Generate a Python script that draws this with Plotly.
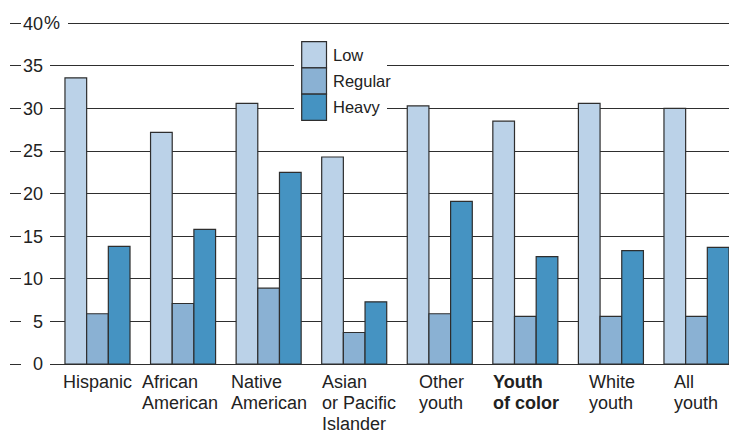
import plotly.graph_objects as go

# --- data ---
categories = ["Hispanic", "African American", "Native American", "Asian or Pacific Islander",
              "Other youth", "Youth of color", "White youth", "All youth"]
category_lines = [["Hispanic"], ["African", "American"], ["Native", "American"],
                  ["Asian", "or Pacific", "Islander"], ["Other", "youth"],
                  ["Youth", "of color"], ["White", "youth"], ["All", "youth"]]
low = [33.6, 27.2, 30.6, 24.3, 30.3, 28.5, 30.6, 30.0]
regular = [5.9, 7.1, 8.9, 3.7, 5.9, 5.6, 5.6, 5.6]
heavy = [13.8, 15.8, 22.5, 7.3, 19.1, 12.6, 13.3, 13.7]

series_names = ["Low", "Regular", "Heavy"]
y_ticks = [0, 5, 10, 15, 20, 25, 30, 35, 40]
highlight = "Youth of color"

# --- style ---
COLORS = {"Low": "#bbd2e8", "Regular": "#8ab1d3", "Heavy": "#4593c2"}
LINE = "#2e2e2e"
TEXT = "#222222"
FONT = "Liberation Sans, Arial, Helvetica, sans-serif"
W, H = 729, 431
TOP, BOTTOM = 19, 67
PLOT_H = H - TOP - BOTTOM
# left edge of each label block, relative to the group centre (px)
LABEL_OFFSETS = [-36.5, -43, -40, -34, -23, -34, -24, -24]
LINE_STEP = 21.2


def px_x(p):
    return p / W


def px_y(p):
    return (H - BOTTOM - p) / PLOT_H


fig = go.Figure()
for name, vals in zip(series_names, [low, regular, heavy]):
    fig.add_trace(go.Bar(
        x=categories, y=vals, name=name, showlegend=False,
        marker=dict(color=COLORS[name], line=dict(color=LINE, width=1.2)),
    ))

# empty trace so the left tick-dash axis gets drawn
fig.add_trace(go.Scatter(x=[], y=[], yaxis="y2", showlegend=False, hoverinfo="skip"))

# category labels, one annotation per line, left aligned
for cat, lines, off in zip(categories, category_lines, LABEL_OFFSETS):
    for k, ln in enumerate(lines):
        txt = f"<b>{ln}</b>" if cat == highlight else ln
        fig.add_annotation(
            x=cat, y=0, xref="x", yref="y", text=txt, showarrow=False,
            xanchor="left", yanchor="top", xshift=off, yshift=-6 - k * LINE_STEP,
            font=dict(family=FONT, size=18, color=TEXT),
        )

# "%" after the top tick, with the gridline cleared behind it
fig.add_annotation(
    x=px_x(43), y=40, xref="paper", yref="y", text="%", showarrow=False,
    xanchor="left", yanchor="middle", borderpad=0,
    font=dict(family=FONT, size=18, color=TEXT),
)
shapes = [dict(type="rect", xref="paper", yref="y",
               x0=px_x(49), x1=px_x(68), y0=39.5, y1=40.5,
               fillcolor="white", line=dict(width=0), layer="above")]

# legend block
shapes.append(dict(type="rect", xref="paper", yref="paper",
                   x0=px_x(294), x1=px_x(387), y0=px_y(122), y1=px_y(31),
                   fillcolor="white", line=dict(width=0), layer="above"))
sw_top = 41.7
sw_h = 26.2
for i, name in enumerate(series_names):
    y0 = sw_top + i * sw_h
    shapes.append(dict(type="rect", xref="paper", yref="paper",
                       x0=px_x(301.7), x1=px_x(326.5), y0=px_y(y0 + sw_h), y1=px_y(y0),
                       fillcolor=COLORS[name], line=dict(color=LINE, width=1.2),
                       layer="above"))
    fig.add_annotation(
        x=px_x(331), y=px_y(y0 + sw_h / 2), xref="paper", yref="paper",
        text=name, showarrow=False, xanchor="left", yanchor="middle",
        font=dict(family=FONT, size=16.5, color=TEXT),
    )

fig.update_layout(
    width=W, height=H,
    margin=dict(l=0, r=0, t=TOP, b=BOTTOM),
    paper_bgcolor="white", plot_bgcolor="white",
    barmode="group", bargap=0.24, bargroupgap=0,
    shapes=shapes,
    font=dict(family=FONT, color=TEXT),
    xaxis=dict(domain=[px_x(50), 1], range=[-0.555, 7.38],
               showticklabels=False, showgrid=False, zeroline=False,
               showline=False, ticks=""),
    yaxis=dict(range=[0, 40.5], tickvals=y_ticks, ticktext=[str(v) for v in y_ticks],
               showgrid=True, gridcolor=LINE, gridwidth=1,
               zeroline=True, zerolinecolor=LINE, zerolinewidth=1,
               showline=False, ticks="", ticklabelstandoff=6,
               tickfont=dict(family=FONT, size=18, color=TEXT)),
    yaxis2=dict(overlaying="y", anchor="free", position=px_x(21), side="left",
                range=[0, 40.5], tickvals=y_ticks, showticklabels=False,
                ticks="outside", ticklen=11, tickwidth=1.2, tickcolor=LINE,
                showgrid=False, zeroline=False, showline=False),
)

fig.write_html("out.html", config={"displayModeBar": False},
               post_script="document.body.style.margin='0';")
